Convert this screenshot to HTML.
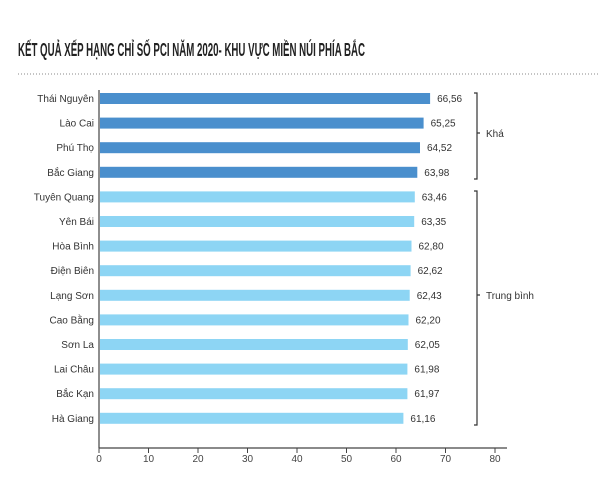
<!DOCTYPE html>
<html><head><meta charset="utf-8"><style>
html,body{margin:0;padding:0;background:#fff;}
svg{display:block;font-family:"Liberation Sans",sans-serif;}
</style></head><body>
<svg width="600" height="477" viewBox="0 0 600 477" xmlns="http://www.w3.org/2000/svg">
<text x="18" y="56" font-size="18" font-weight="bold" fill="#222" textLength="347" lengthAdjust="spacingAndGlyphs">KẾT QUẢ XẾP HẠNG CHỈ SỐ PCI NĂM 2020- KHU VỰC MIỀN NÚI PHÍA BẮC</text>
<line x1="18" y1="74" x2="600" y2="74" stroke="#888" stroke-width="1" stroke-dasharray="1,2"/>
<g font-size="10" fill="#333">
<g fill="#4a8fcd">
<rect x="100" y="93" width="330.1" height="11"/>
<rect x="100" y="117.6" width="323.6" height="11"/>
<rect x="100" y="142.2" width="320.0" height="11"/>
<rect x="100" y="166.8" width="317.3" height="11"/>
</g>
<g fill="#8dd5f4">
<rect x="100" y="191.4" width="314.8" height="11"/>
<rect x="100" y="216" width="314.2" height="11"/>
<rect x="100" y="240.6" width="311.5" height="11"/>
<rect x="100" y="265.2" width="310.6" height="11"/>
<rect x="100" y="289.8" width="309.7" height="11"/>
<rect x="100" y="314.4" width="308.5" height="11"/>
<rect x="100" y="339" width="307.8" height="11"/>
<rect x="100" y="363.6" width="307.4" height="11"/>
<rect x="100" y="388.2" width="307.4" height="11"/>
<rect x="100" y="412.8" width="303.4" height="11"/>
</g>
<g text-anchor="end">
<text x="94" y="102">Thái Nguyên</text>
<text x="94" y="126.6">Lào Cai</text>
<text x="94" y="151.2">Phú Thọ</text>
<text x="94" y="175.8">Bắc Giang</text>
<text x="94" y="200.4">Tuyên Quang</text>
<text x="94" y="225">Yên Bái</text>
<text x="94" y="249.6">Hòa Bình</text>
<text x="94" y="274.2">Điện Biên</text>
<text x="94" y="298.8">Lạng Sơn</text>
<text x="94" y="323.4">Cao Bằng</text>
<text x="94" y="348">Sơn La</text>
<text x="94" y="372.6">Lai Châu</text>
<text x="94" y="397.2">Bắc Kạn</text>
<text x="94" y="421.8">Hà Giang</text>
</g>
<text x="437.1" y="102">66,56</text>
<text x="430.6" y="126.6">65,25</text>
<text x="427" y="151.2">64,52</text>
<text x="424.3" y="175.8">63,98</text>
<text x="421.8" y="200.4">63,46</text>
<text x="421.2" y="225">63,35</text>
<text x="418.5" y="249.6">62,80</text>
<text x="417.6" y="274.2">62,62</text>
<text x="416.7" y="298.8">62,43</text>
<text x="415.5" y="323.4">62,20</text>
<text x="414.8" y="348">62,05</text>
<text x="414.4" y="372.6">61,98</text>
<text x="414.4" y="397.2">61,97</text>
<text x="410.4" y="421.8">61,16</text>
<line x1="99" y1="90" x2="99" y2="448" stroke="#444" stroke-width="1.2"/>
<line x1="99" y1="448" x2="507" y2="448" stroke="#444" stroke-width="1.2"/>
<g text-anchor="middle" fill="#444">
<line x1="99" y1="448" x2="99" y2="453" stroke="#444"/><text x="99" y="462">0</text>
<line x1="148.5" y1="448" x2="148.5" y2="453" stroke="#444"/><text x="148.5" y="462">10</text>
<line x1="198" y1="448" x2="198" y2="453" stroke="#444"/><text x="198" y="462">20</text>
<line x1="247.5" y1="448" x2="247.5" y2="453" stroke="#444"/><text x="247.5" y="462">30</text>
<line x1="297" y1="448" x2="297" y2="453" stroke="#444"/><text x="297" y="462">40</text>
<line x1="346.5" y1="448" x2="346.5" y2="453" stroke="#444"/><text x="346.5" y="462">50</text>
<line x1="396" y1="448" x2="396" y2="453" stroke="#444"/><text x="396" y="462">60</text>
<line x1="445.5" y1="448" x2="445.5" y2="453" stroke="#444"/><text x="445.5" y="462">70</text>
<line x1="495" y1="448" x2="495" y2="453" stroke="#444"/><text x="495" y="462">80</text>
</g>
</g>
<path d="M474 93 H477 V179 H474 M477 133 H480" fill="none" stroke="#333" stroke-width="1.2"/>
<text x="486" y="137" font-size="10" fill="#333">Khá</text>
<path d="M474 191 H477 V425 H474 M477 295 H480" fill="none" stroke="#333" stroke-width="1.2"/>
<text x="486" y="299" font-size="10" fill="#333">Trung bình</text>
</svg>
</body></html>
